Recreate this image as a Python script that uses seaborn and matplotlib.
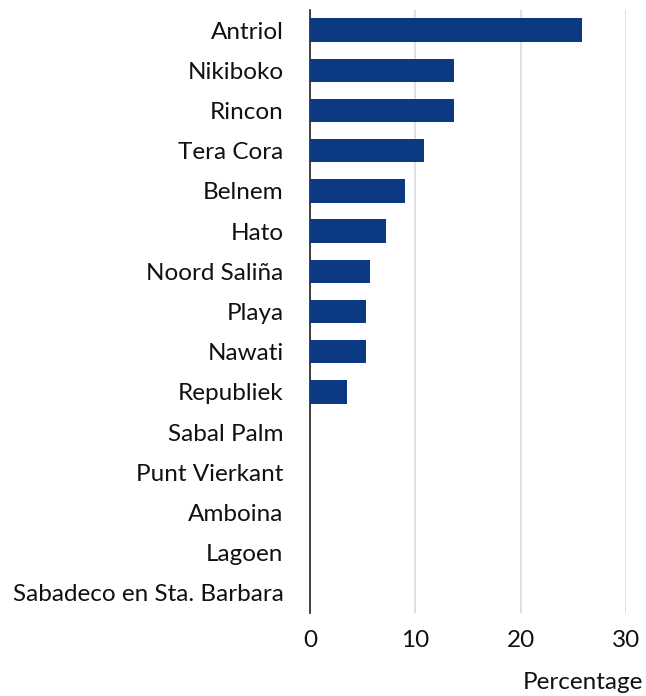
import pandas as pd
import seaborn as sns
import matplotlib.pyplot as plt

# Wijken en percentages
wijken = [
    "Antriol", "Nikiboko", "Rincon", "Tera Cora", "Belnem", "Hato",
    "Noord Saliña", "Playa", "Nawati", "Republiek", "Sabal Palm",
    "Punt Vierkant", "Amboina", "Lagoen", "Sabadeco en Sta. Barbara",
]
percentages = [25.8, 13.7, 13.7, 10.8, 9.0, 7.2, 5.7, 5.3, 5.3, 3.5, 0, 0, 0, 0, 0]
x_ticks = [0, 10, 20, 30]

df = pd.DataFrame({"wijk": wijken, "pct": percentages})

sns.set_style("white")
plt.rcParams["font.family"] = ["Lato", "DejaVu Sans"]

fig = plt.figure(figsize=(6.46, 6.96), dpi=100)
ax = fig.add_axes([310 / 646, 1 - 613 / 696, 316 / 646, 603 / 696])

sns.barplot(data=df, x="pct", y="wijk", color="#0b3a82", saturation=1,
            width=0.58, linewidth=0, ax=ax, zorder=3)

ax.set_xlim(0, 30)
ax.set_xticks(x_ticks)
ax.grid(axis="x", color="#d9d9d9", linewidth=1.2, zorder=0)
ax.set_axisbelow(True)
for side in ["top", "right", "bottom"]:
    ax.spines[side].set_visible(False)
ax.spines["left"].set_color("#222222")
ax.spines["left"].set_linewidth(1.2)

ax.tick_params(axis="both", length=0, labelsize=17.5, colors="#111111")
ax.tick_params(axis="x", pad=12)
ax.tick_params(axis="y", pad=19)
ax.set_ylabel("")
ax.set_xlabel("Percentage", fontsize=17.5, color="#111111", ha="right")
ax.xaxis.set_label_coords(1.054, -0.116)
ax.xaxis.label.set_va("center")

fig.savefig("out.png", dpi=100)
